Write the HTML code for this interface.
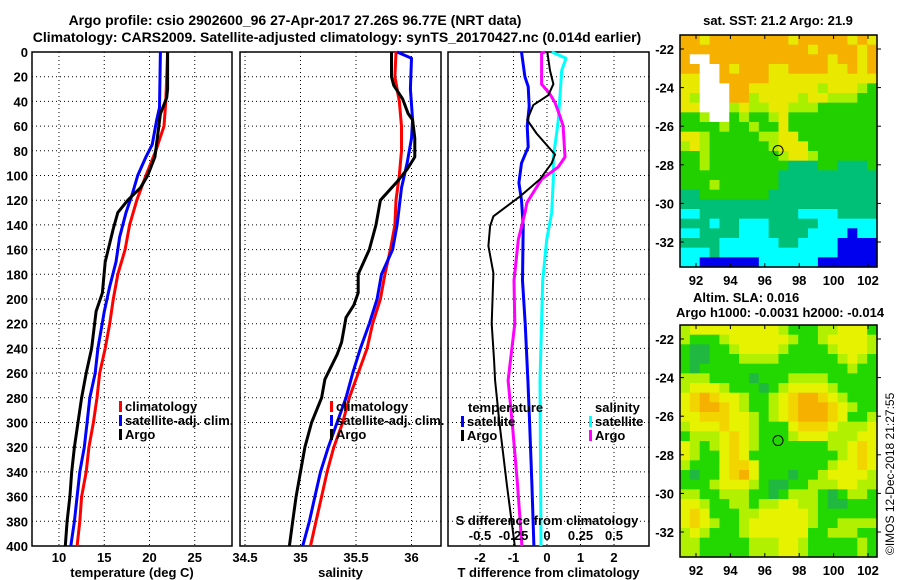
<!DOCTYPE html>
<html><head><meta charset="utf-8"><style>
html,body{margin:0;padding:0;background:#fff;}
svg{display:block;font-family:"Liberation Sans",sans-serif;font-weight:bold;}
</style></head><body>
<svg id="chart" width="900" height="580" viewBox="0 0 900 580" xmlns="http://www.w3.org/2000/svg">
<text x="295" y="25" font-size="14" text-anchor="middle">Argo profile: csio 2902600_96 27-Apr-2017 27.26S 96.77E (NRT data)</text>
<text x="337" y="42" font-size="14" text-anchor="middle">Climatology: CARS2009. Satellite-adjusted climatology: synTS_20170427.nc (0.014d earlier)</text>
<g id="panels"></g>
<g id="maps"></g>
<text transform="translate(894,555) rotate(-90)" font-size="12" font-weight="normal">©IMOS 12-Dec-2018 21:27:55</text>
</svg>
<script>
// ---- profile data (depth in m) ----
const depthTicks = [0,20,40,60,80,100,120,140,160,180,200,220,240,260,280,300,320,340,360,380,400];
const tempTicks = [10,15,20,25];
const salTicks = [34.5,35,35.5,36];
const tdiffTicks = [-2,-1,0,1,2];
const sdiffTicks = [-0.5,-0.25,0,0.25,0.5];
const sdiffTickLabels = ["-0.5","-0.25","0","0.25","0.5"];

const tArgoDepth = [0,30,37,50,85,100,110,120,130,143,170,195,210,240,260,280,300,320,340,360,380,400];
const tArgo = [22.0,22.0,21.9,21.2,20.6,19.8,19.0,17.6,16.5,16.0,15.1,14.8,14.1,13.6,13.0,12.5,12.1,11.7,11.4,11.2,10.9,10.7];
const tClimDepth = [0,40,60,80,100,120,140,160,180,200,220,240,260,280,300,320,340,360,380,400];
const tClim = [22.0,21.8,21.6,20.7,19.6,18.6,17.8,17.3,16.5,16.0,15.6,15.1,14.5,14.2,13.8,13.3,13.0,12.5,12.3,12.0];
const tSatDepth = [0,45,55,75,85,100,115,130,150,170,190,210,240,260,280,300,320,340,360,380,400];
const tSat = [21.2,21.1,20.8,20.3,19.6,18.7,18.1,17.4,16.7,16.3,15.6,15.0,14.3,14.0,13.4,13.1,12.8,12.3,12.0,11.7,11.3];

const sArgoDepth = [0,20,27,38,50,55,70,85,95,105,120,140,160,180,195,205,215,235,245,265,280,300,320,340,360,380,400];
const sArgo = [35.82,35.82,35.84,35.92,35.97,36.01,36.03,36.03,35.96,35.87,35.72,35.68,35.62,35.52,35.52,35.48,35.41,35.37,35.33,35.22,35.19,35.10,35.04,35.00,34.96,34.93,34.90];
const sClimDepth = [0,20,40,60,80,100,120,140,160,180,200,220,240,260,280,300,320,340,360,380,400];
const sClim = [35.86,35.85,35.89,35.91,35.91,35.89,35.86,35.85,35.81,35.76,35.72,35.65,35.60,35.52,35.44,35.38,35.30,35.24,35.19,35.14,35.09];
const sSatDepth = [0,5,30,55,70,90,110,140,160,180,200,220,240,260,280,300,320,340,360,380,400];
const sSat = [35.87,36.00,35.99,36.01,36.00,35.96,35.91,35.87,35.83,35.73,35.69,35.62,35.54,35.47,35.41,35.33,35.25,35.18,35.13,35.08,35.02];

const dTSatDepth = [0,20,28,44,60,77,90,106,120,141,185,220,266,300,350,400];
const dTSat = [-0.76,-0.66,-0.56,-0.53,-0.59,-0.56,-0.76,-0.84,-0.76,-0.71,-0.73,-0.65,-0.57,-0.52,-0.45,-0.39];
const dTArgoDepth = [0,15,26,35,43,55,66,83,90,103,117,133,141,157,179,220,250,266,300,350,400];
const dTArgo = [0.01,0.09,0.19,0.04,-0.41,-0.59,-0.31,0.24,0.14,-0.21,-0.81,-1.6,-1.7,-1.75,-1.6,-1.65,-1.58,-1.55,-1.42,-1.2,-0.96];
const dSArgoDepth = [0,1,26,34,41,52,60,85,93,103,122,130,152,185,220,266,300,350,400];
const dSArgo = [-0.015,-0.04,-0.04,0.022,0.06,0.097,0.12,0.134,0.084,-0.04,-0.15,-0.164,-0.214,-0.246,-0.24,-0.29,-0.26,-0.22,-0.187];
const dSSatDepth = [0,5,15,44,55,66,85,103,130,152,185,266,400];
const dSSat = [0.035,0.142,0.11,0.092,0.084,0.072,0.047,0.047,0.035,-0.002,-0.032,-0.052,-0.045];

// ---- map data (colour codes per cell) ----
const sstRows = [
"OOYOOOOOOOOYOOOOOYOY","OOOOOOOOOOOOOYOOOOYO","OWWOOOOOOOOOOOOYOOYO","OOWWOYOOOYYOOOOYYOYO",
"YYWWOOOOOYYYYYYYYYYY","YYWWWOOYYYYYYYLYYYLG","YLWWWOOLYYYYLYYLLLGG","YYWWWLYLLYYLLLGGGGGG",
"GGLWWGLGGLYGGGGGGGGG","GGGGLGGLGGYGGGGGGGGG","YYLGGGGGLLYYGGGGGGGG","LYLGGGGGGLYYYGGGGGGG",
"GGLGGGGGGGLYYLGGGGGG","GGLGGGGGGGGTTTGGTTTG","GGGGGGGGGGTTTTTTTTTT","GGGLGGGGGGTTTTTTTTTT",
"TTGGGGGGGTTTTTTTTTTT","TTTTTTTTTTTTTTTTTTTT","CCTTTTTTTTTTCCCCTTTT","TTTCTTCCCTTTTTCCCCCC",
"CCTTTTCCCTTTTCCCCBCC","TTTTCCCCCCTTCCCCBBBB","CCCTCCCCCCCCCCCCBBBB","CCBBBBBBCCCCCCBBBBBB"];
const slaRows = [
"LYYYYYYYYYLGGGLLYYYG","LGGGLYYYYYYLGGLYYYYL","GDDGGLYYYYLGGGGLYYYL","GDDGGGLLLLGGGGGGLYLG",
"GDGGGGGGGGGGGGGGGLGG","LLLGGGGDGGGLLLLGGGGG","LYYYLGGGDGLYYYYLGGGG","YAOAYYLGGLYAOOAYLGGG",
"YAOOAYLGGLYAOOOAYLGG","YYAAAYYLGLYAOOOAYGGL","LYYYAYYLGGGYAAAYLLLY","GLLLYAYLGGGLYYYLLLYY",
"YLGLYAYLGGGGGGGLLYAY","YLGGYAYGGGGGGGGGLYAY","LGGGYAAYGGGGGGGLYYAY","GDGGYAOYGGGDGGLYYYYL",
"GGGLYYYLGDDGGLLLYYLL","LLGGLLLGGDGLLLGDGLLG","YYLGGLLGLLYYLLGDDGGG","YAYGGGLLYYYYYLGGGGGG",
"YAYLGGLYYYYYYLGGLLLL","LYLGGGLYYYYYYGGLLLGG","LLGGGGGLLLYYLGGGGGLG","LLGGGGGLLLYYLGGGGGLG"];
const lonTicks = [92,94,96,98,100,102];
const latTicks = [-22,-24,-26,-28,-30,-32];
const argoLon = 96.77, argoLat = -27.26;

const NS = "http://www.w3.org/2000/svg";
function mk(tag, attrs, parent){ const e=document.createElementNS(NS,tag); for(const k in attrs) e.setAttribute(k,attrs[k]); parent.appendChild(e); return e; }

const Y0=52, Y1=546;
const yScale = d => Y0 + d*(Y1-Y0)/400;
const panels = document.getElementById('panels');

function drawPanel(name, left, right, xs, ticks, tickLabels, xlabel){
  const g = mk('g',{},panels);
  
  
  ticks.forEach((t,i)=>{
    const x = xs(t);
    const gl = mk('line',{x1:x,x2:x,y1:Y0,y2:Y1,stroke:'#000','stroke-width':1,'stroke-dasharray':'1,3'},g);
    
    
    if(tickLabels){
      const tl = mk('text',{x:x,y:562,'font-size':13,'text-anchor':'middle'},g);
      tl.textContent = tickLabels[i];
      
      
    }
  });
  depthTicks.forEach(d=>{
    const y=yScale(d);
    const gl = mk('line',{x1:left,x2:right,y1:y,y2:y,stroke:'#000','stroke-width':1,'stroke-dasharray':'1,3'},g);
    
    
  });
  const fr = mk('rect',{x:left,y:Y0,width:right-left,height:Y1-Y0,fill:'none',stroke:'#000','stroke-width':1.5},g);
  
  
  const xl = mk('text',{x:(left+right)/2,y:577,'font-size':13,'text-anchor':'middle'},g);
  xl.textContent = xlabel;
  
  
  return g;
}
function drawLine(g, name, depths, vals, xs, color, w){
  const pts = depths.map((d,i)=>xs(vals[i]).toFixed(1)+','+yScale(d).toFixed(1)).join(' ');
  const p = mk('polyline',{points:pts,fill:'none',stroke:color,'stroke-width':w,'stroke-linejoin':'round'},g);
  
  
}
function legend(g, x, y, color, label){
  const r = mk('rect',{x:x,y:y-10,width:3,height:11,fill:color},g);
  
  
  const t = mk('text',{x:x+6,y:y,'font-size':13},g);
  t.textContent=label;
  
  
}

depthTicks.forEach(d=>{
  const t = mk('text',{x:28,y:yScale(d)+5,'font-size':13,'text-anchor':'end'},panels);
  t.textContent = d;
  
  
});

const xT = t => 59 + (t-10)*9.05;
const g1 = drawPanel('temperature-panel', 32, 232, xT, tempTicks, tempTicks.map(String), 'temperature (deg C)');
drawLine(g1,'temp-climatology-line',tClimDepth,tClim,xT,'#f00',3);
drawLine(g1,'temp-satellite-line',tSatDepth,tSat,xT,'#00f',3);
drawLine(g1,'temp-argo-line',tArgoDepth,tArgo,xT,'#000',3);
legend(g1,119,411,'#f00','climatology');
legend(g1,119,425,'#00f','satellite-adj. clim.');
legend(g1,119,439,'#000','Argo');

const xS = s => 245 + (s-34.5)*111;
const g2 = drawPanel('salinity-panel', 240, 441, xS, salTicks, salTicks.map(String), 'salinity');
drawLine(g2,'sal-climatology-line',sClimDepth,sClim,xS,'#f00',3);
drawLine(g2,'sal-satellite-line',sSatDepth,sSat,xS,'#00f',3);
drawLine(g2,'sal-argo-line',sArgoDepth,sArgo,xS,'#000',3);
legend(g2,330,411,'#f00','climatology');
legend(g2,330,425,'#00f','satellite-adj. clim.');
legend(g2,330,439,'#000','Argo');

const xD = d => 547 + d*33.5;
const xSD = s => 547 + s*134;
const g3 = drawPanel('difference-panel', 448, 649, xD, tdiffTicks, ['-2','','0','','2'], 'T difference from climatology');
[[-1,'-1'],[1,'1']].forEach(([v,l])=>{ const t=mk('text',{x:xD(v),y:562,'font-size':13,'text-anchor':'middle'},g3); t.textContent=l;   });
drawLine(g3,'tdiff-satellite-line',dTSatDepth,dTSat,xD,'#00f',3);
drawLine(g3,'sdiff-satellite-line',dSSatDepth,dSSat,xSD,'#0ff',3);
drawLine(g3,'sdiff-argo-line',dSArgoDepth,dSArgo,xSD,'#f0f',3);
drawLine(g3,'tdiff-argo-line',dTArgoDepth,dTArgo,xD,'#000',2);
const lt = mk('text',{x:468,y:412,'font-size':13},g3); lt.textContent='temperature';
 
legend(g3,461,426,'#00f','satellite');
legend(g3,461,440,'#000','Argo');
const ls = mk('text',{x:595,y:412,'font-size':13},g3); ls.textContent='salinity';
 
legend(g3,589,426,'#0ff','satellite');
legend(g3,589,440,'#f0f','Argo');
const sdt = mk('text',{x:547,y:525,'font-size':13,'text-anchor':'middle'},g3); sdt.textContent='S difference from climatology';
 
sdiffTicks.forEach((v,i)=>{ const t=mk('text',{x:xSD(v),y:540,'font-size':13,'text-anchor':'middle'},g3); t.textContent=sdiffTickLabels[i];
    });

const maps = document.getElementById('maps');
const pal = {O:'#f5b000',Y:'#e8e800',L:'#a8f000',G:'#22d000',D:'#2cb040',T:'#00c078',C:'#00ffff',B:'#0000ee',W:'#ffffff',A:'#f0d000'};
const slaPal = {O:'#f5b000',A:'#f2d400',Y:'#e6f200',L:'#b0f000',G:'#22d800',D:'#20b840'};
function drawMap(name, top, rows, palette){
  const L=680, R=877, H=232;
  const g = mk('g',{},maps);
  
  
  const nr=rows.length, nc=rows[0].length, cw=(R-L)/nc, ch=H/nr;
  rows.forEach((row,ri)=>{ for(let ci=0;ci<nc;ci++){
    mk('rect',{x:(L+ci*cw).toFixed(2),y:(top+ri*ch).toFixed(2),width:(cw+0.6).toFixed(2),height:(ch+0.6).toFixed(2),fill:palette[row[ci]]},g);
  }});
  const lonX = lon => 696 + (lon-92)*17.2;
  const latY = lat => top + 14 + (-22-lat)*19.3;
  const fr = mk('rect',{x:L,y:top,width:R-L,height:H,fill:'none',stroke:'#000','stroke-width':1.5},g);
   
  lonTicks.forEach(v=>{ const x=lonX(v);
    mk('line',{x1:x,x2:x,y1:top,y2:top+4,stroke:'#000'},g); mk('line',{x1:x,x2:x,y1:top+H,y2:top+H-4,stroke:'#000'},g);
    const t=mk('text',{x:x,y:top+H+18,'font-size':13,'text-anchor':'middle'},g); t.textContent=v;
      });
  latTicks.forEach(v=>{ const y=latY(v);
    mk('line',{x1:L,x2:L+4,y1:y,y2:y,stroke:'#000'},g); mk('line',{x1:R,x2:R+4,y1:y,y2:y,stroke:'#000'},g);
    const t=mk('text',{x:674,y:y+5,'font-size':13,'text-anchor':'end'},g); t.textContent=v;
      });
  const c = mk('circle',{cx:lonX(argoLon),cy:latY(argoLat),r:5,fill:'none',stroke:'#000','stroke-width':1},g);
   
}
drawMap('sst-map',35,sstRows,pal);
drawMap('sla-map',325,slaRows,slaPal);
[['sst-map-title',778,25,'sat. SST: 21.2 Argo: 21.9','middle'],['sla-map-title',693,302,'Altim. SLA: 0.016','start'],['argo-height-label',676,317,'Argo h1000: -0.0031 h2000: -0.014','start']].forEach(a=>{
  const t=mk('text',{x:a[1],y:a[2],'font-size':13,'text-anchor':a[4]},maps); t.textContent=a[3];
    });
</script>
</body></html>
